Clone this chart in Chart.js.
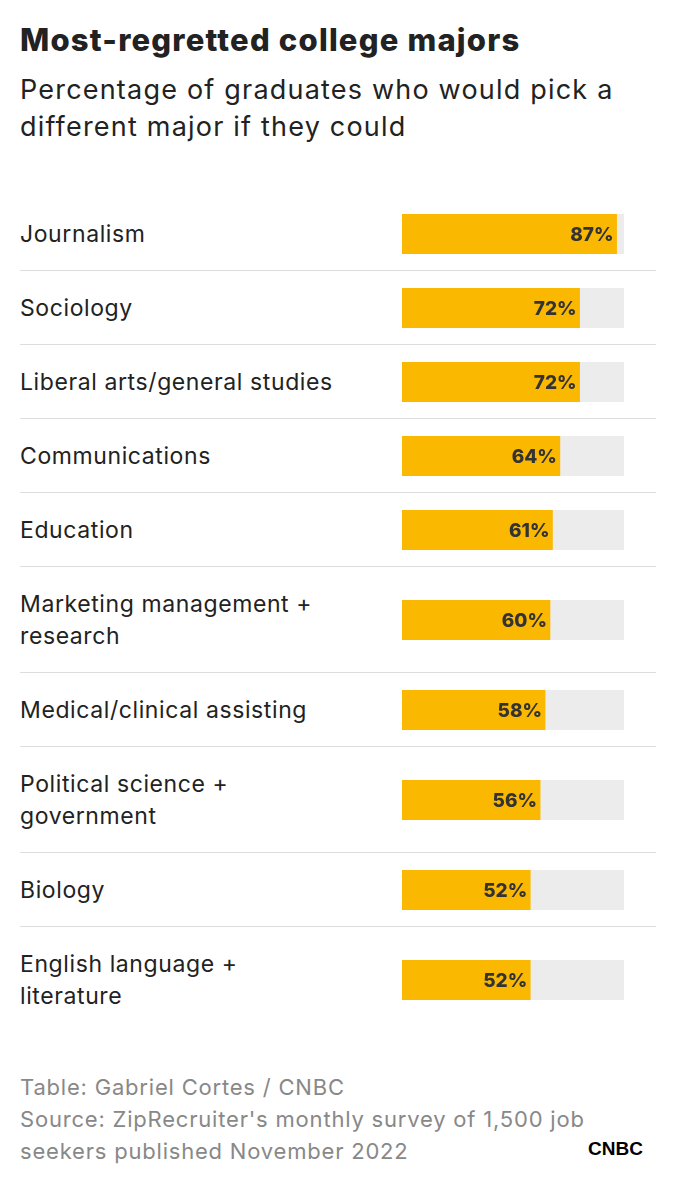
<!DOCTYPE html>
<html><head><meta charset="utf-8">
<script src="https://cdn.jsdelivr.net/npm/chart.js@4"></script>
<style>
body{margin:0;background:#fff;font-family:Inter,"Noto Sans",sans-serif;color:#222;width:676px;height:1188px;overflow:hidden;position:relative}
h1{position:absolute;left:20px;top:21px;margin:0;font-size:31px;font-weight:800;letter-spacing:1.2px}
.sub{position:absolute;left:20px;top:71px;font-size:27px;line-height:37px;color:#222;letter-spacing:1.2px}
#rows{position:absolute;left:20px;top:197px;width:636px}
.row{display:flex;align-items:center;border-bottom:1px solid #ddd;box-sizing:border-box}
.row:last-child{border-bottom:none}
.lab{width:382px;font-size:23px;line-height:32px;letter-spacing:0.6px}
.cv{width:222px;height:40px;position:relative}
.foot{position:absolute;left:20px;top:1071px;font-size:22px;line-height:32px;color:#888;letter-spacing:0.8px}
.logo{position:absolute;left:588px;top:1138px;font-weight:900;font-size:19px;color:#000;font-family:"Liberation Sans",sans-serif}
</style></head><body>
<h1>Most-regretted college majors</h1>
<div class="sub">Percentage of graduates who would pick a<br>different major if they could</div>
<div id="rows"></div>
<div class="foot">Table: Gabriel Cortes / CNBC<br>Source: ZipRecruiter's monthly survey of 1,500 job<br>seekers published November 2022</div>
<div class="logo">CNBC</div>
<script>
const majors = ["Journalism","Sociology","Liberal arts/general studies","Communications","Education","Marketing management +\nresearch","Medical/clinical assisting","Political science +\ngovernment","Biology","English language +\nliterature"];
const values = [87,72,72,64,61,60,58,56,52,52];
const trackMax = 90;

const labelPlugin = {
  id: "vlabel",
  afterDatasetsDraw(chart) {
    const bar = chart.getDatasetMeta(0).data[0];
    const ctx = chart.ctx;
    ctx.save();
    ctx.font = "800 19px Inter, sans-serif";
    ctx.fillStyle = "#333";
    ctx.textAlign = "right";
    ctx.textBaseline = "middle";
    ctx.fillText(chart.data.datasets[0].data[0] + "%", bar.x - 3, bar.y + 1);
    ctx.restore();
  }
};

const rowsEl = document.getElementById("rows");
majors.forEach((m, i) => {
  const two = m.includes("\n");
  const row = document.createElement("div");
  row.className = "row";
  row.style.height = (two ? 106 : 74) + "px";
  const lab = document.createElement("div");
  lab.className = "lab";
  lab.innerHTML = m.replace("\n", "<br>");
  const wrap = document.createElement("div");
  wrap.className = "cv";
  const c = document.createElement("canvas");
  wrap.appendChild(c);
  row.appendChild(lab); row.appendChild(wrap);
  rowsEl.appendChild(row);
  new Chart(c, {
    type: "bar",
    data: {
      labels: [m],
      datasets: [
        {data: [values[i]], backgroundColor: "#fbb800", order: 0, barPercentage: 1, categoryPercentage: 1},
        {data: [trackMax], backgroundColor: "#ececec", order: 1, barPercentage: 1, categoryPercentage: 1}
      ]
    },
    options: {
      indexAxis: "y", responsive: true, maintainAspectRatio: false, animation: false,
      grouped: false,
      layout: {padding: 0},
      plugins: {legend: {display: false}, tooltip: {enabled: false}},
      scales: {
        x: {display: false, min: 0, max: trackMax},
        y: {display: false}
      }
    },
    plugins: [labelPlugin]
  });
});
</script>
</body></html>
